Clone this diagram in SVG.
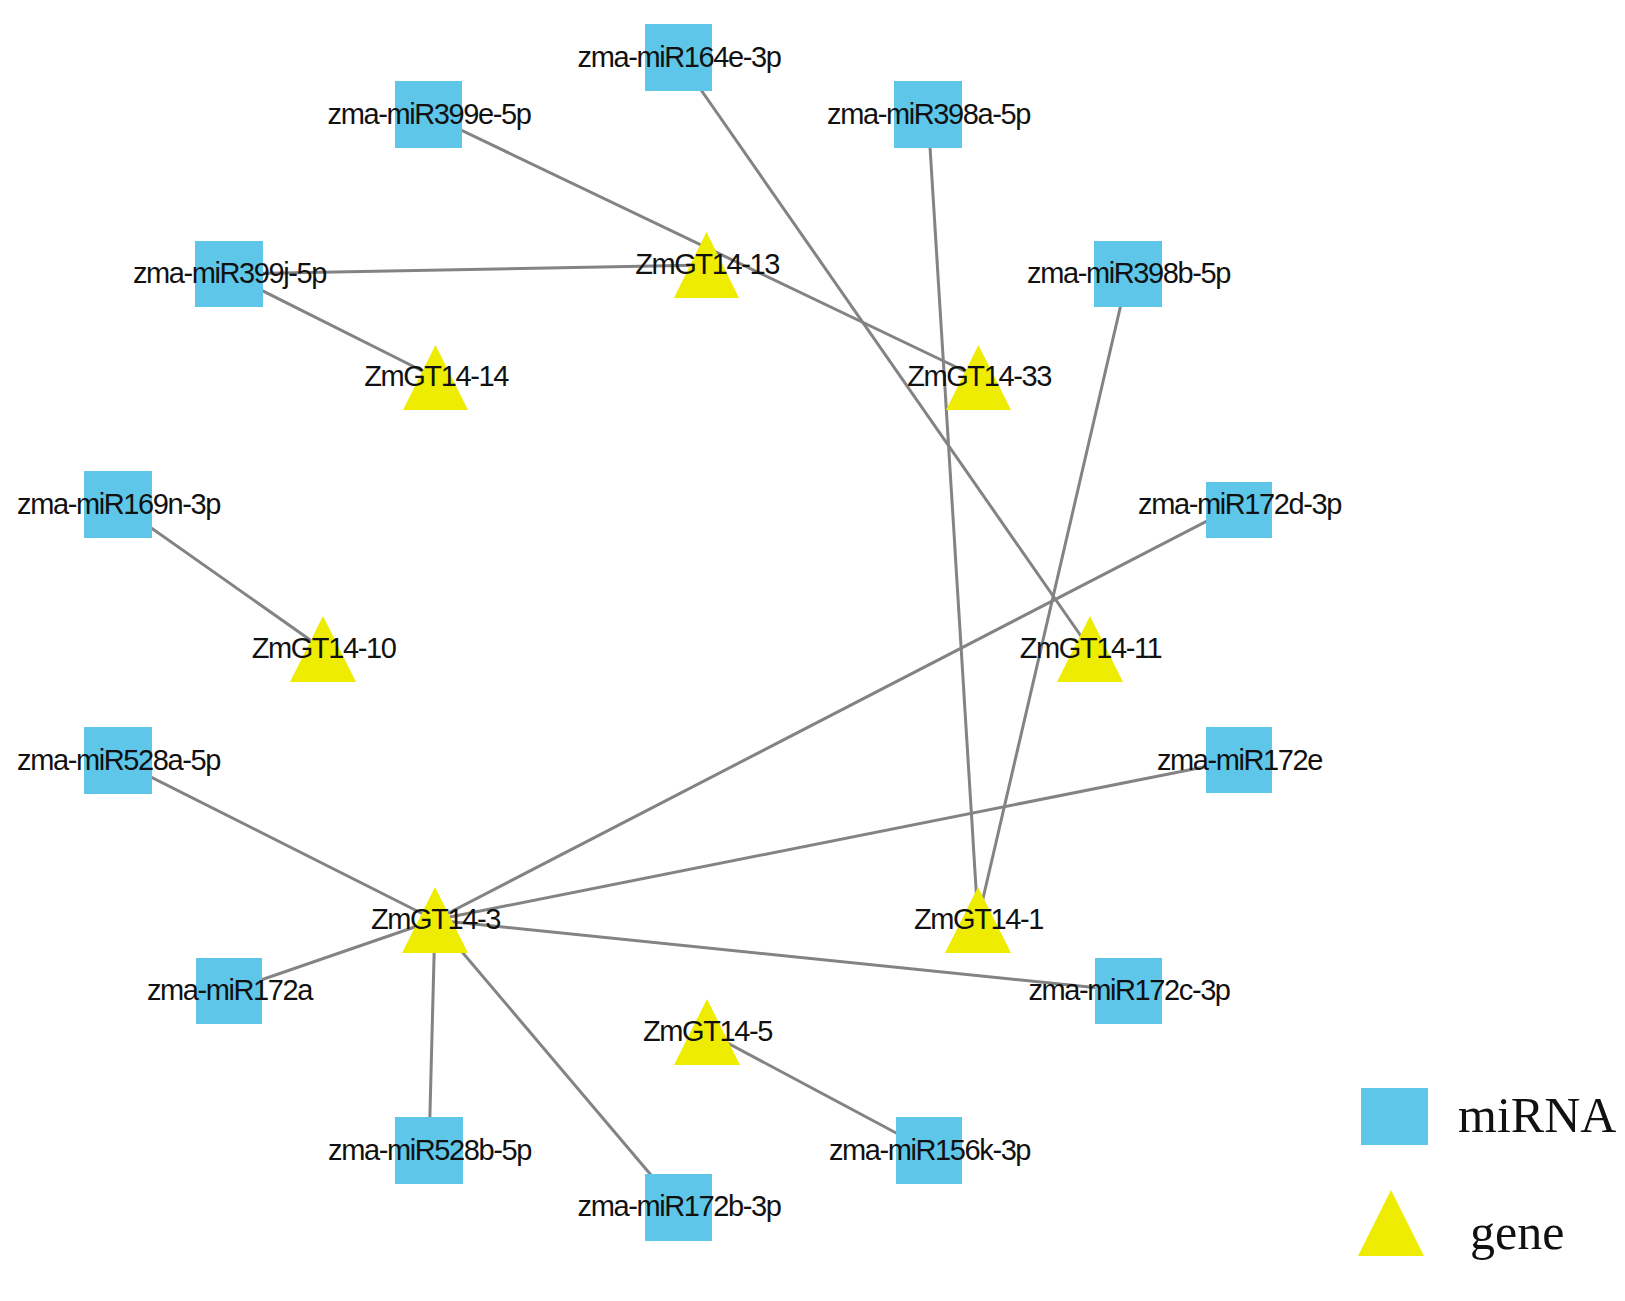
<svg xmlns="http://www.w3.org/2000/svg" width="1625" height="1301" viewBox="0 0 1625 1301">
<style>
.e{stroke:#838383;stroke-width:3;fill:none}
.m{fill:#5DC6E9}
.g{fill:#EEEC00}
.t{font-family:"Liberation Sans",Arial,sans-serif;font-size:29px;letter-spacing:-1.4px;fill:#111;text-anchor:middle}
.l{font-family:"Liberation Serif","Times New Roman",serif;font-size:50px;fill:#111}
</style>
<rect width="1625" height="1301" fill="#fff"/>
<g id="connectors">
<line class="e" x1="428.5" y1="114.5" x2="978" y2="377.5"/>
<line class="e" x1="229" y1="274" x2="706.5" y2="265"/>
<line class="e" x1="229" y1="274" x2="435.5" y2="377.5"/>
<line class="e" x1="678.5" y1="57.5" x2="1090" y2="649"/>
<line class="e" x1="928" y1="114.5" x2="978" y2="920"/>
<line class="e" x1="1128" y1="274" x2="978" y2="920"/>
<line class="e" x1="118" y1="504.5" x2="323" y2="649"/>
<line class="e" x1="1239" y1="504.5" x2="435" y2="920"/>
<line class="e" x1="118" y1="760.5" x2="435" y2="920"/>
<line class="e" x1="1239" y1="760" x2="435" y2="920"/>
<line class="e" x1="229" y1="991" x2="435" y2="920"/>
<line class="e" x1="1128.5" y1="991" x2="435" y2="920"/>
<line class="e" x1="429" y1="1150.5" x2="435" y2="920"/>
<line class="e" x1="678.5" y1="1207.5" x2="435" y2="920"/>
<line class="e" x1="929" y1="1150.5" x2="707" y2="1032"/>
</g>
<g id="n-miR164e-3p"><rect class="m" x="645" y="24" width="67" height="67"/><text class="t" x="679" y="67">zma-miR164e-3p</text></g>
<g id="n-miR399e-5p"><rect class="m" x="395" y="81" width="67" height="67"/><text class="t" x="429" y="124">zma-miR399e-5p</text></g>
<g id="n-miR398a-5p"><rect class="m" x="894" y="81" width="68" height="67"/><text class="t" x="928.5" y="124">zma-miR398a-5p</text></g>
<g id="n-miR399j-5p"><rect class="m" x="195" y="241" width="68" height="66"/><text class="t" x="229.5" y="283">zma-miR399j-5p</text></g>
<g id="n-miR398b-5p"><rect class="m" x="1094" y="241" width="68" height="66"/><text class="t" x="1128.5" y="283">zma-miR398b-5p</text></g>
<g id="n-miR169n-3p"><rect class="m" x="84" y="471" width="68" height="67"/><text class="t" x="118.5" y="514">zma-miR169n-3p</text></g>
<g id="n-miR172d-3p"><rect class="m" x="1206" y="482" width="66" height="56"/><text class="t" x="1239.5" y="514">zma-miR172d-3p</text></g>
<g id="n-miR528a-5p"><rect class="m" x="84" y="727" width="68" height="67"/><text class="t" x="118.5" y="770">zma-miR528a-5p</text></g>
<g id="n-miR172e"><rect class="m" x="1206" y="727" width="66" height="66"/><text class="t" x="1239.5" y="770">zma-miR172e</text></g>
<g id="n-miR172a"><rect class="m" x="196" y="958" width="66" height="66"/><text class="t" x="229.5" y="1000">zma-miR172a</text></g>
<g id="n-miR172c-3p"><rect class="m" x="1095" y="958" width="67" height="66"/><text class="t" x="1129" y="1000">zma-miR172c-3p</text></g>
<g id="n-miR528b-5p"><rect class="m" x="395" y="1117" width="68" height="67"/><text class="t" x="429.5" y="1160">zma-miR528b-5p</text></g>
<g id="n-miR156k-3p"><rect class="m" x="896" y="1117" width="66" height="67"/><text class="t" x="929.5" y="1160">zma-miR156k-3p</text></g>
<g id="n-miR172b-3p"><rect class="m" x="645" y="1174" width="67" height="67"/><text class="t" x="679" y="1216">zma-miR172b-3p</text></g>
<g id="n-ZmGT14-13"><polygon class="g" points="706.5,232 739,298 674,298"/><text class="t" x="707" y="274">ZmGT14-13</text></g>
<g id="n-ZmGT14-14"><polygon class="g" points="435.5,345 468,410 403,410"/><text class="t" x="436" y="386">ZmGT14-14</text></g>
<g id="n-ZmGT14-33"><polygon class="g" points="978.5,345 1011,410 946,410"/><text class="t" x="979" y="386">ZmGT14-33</text></g>
<g id="n-ZmGT14-10"><polygon class="g" points="323,616 356,682 290,682"/><text class="t" x="323.5" y="658">ZmGT14-10</text></g>
<g id="n-ZmGT14-11"><polygon class="g" points="1090,616 1123,682 1057,682"/><text class="t" x="1090.5" y="658">ZmGT14-11</text></g>
<g id="n-ZmGT14-3"><polygon class="g" points="435,887 468,953 402,953"/><text class="t" x="435.5" y="929">ZmGT14-3</text></g>
<g id="n-ZmGT14-1"><polygon class="g" points="978,887 1011,953 945,953"/><text class="t" x="978.5" y="929">ZmGT14-1</text></g>
<g id="n-ZmGT14-5"><polygon class="g" points="707,999 740,1065 674,1065"/><text class="t" x="707.5" y="1041">ZmGT14-5</text></g>
<g id="legend">
<rect class="m" x="1361" y="1088" width="67" height="57"/>
<text class="l" x="1458" y="1132">miRNA</text>
<polygon class="g" points="1391,1190 1424,1256 1358,1256"/>
<text class="l" x="1470" y="1249">gene</text>
</g>
</svg>
